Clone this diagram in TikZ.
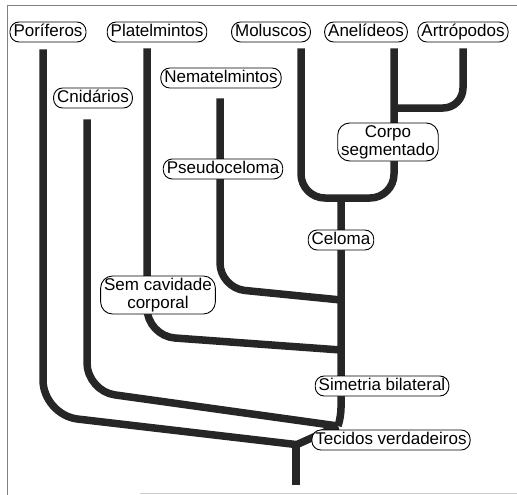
\documentclass[tikz,border=0pt]{standalone}
\usepackage{fontspec}
\setmainfont{Liberation Sans}
\usetikzlibrary{positioning,calc}
\definecolor{ramocor}{HTML}{262626}

\begin{document}
\begin{tikzpicture}[x=1pt,y=-1pt,
    ramo/.style={line width=7.5pt, draw=ramocor},
    grupo/.style={draw, line width=0.9pt, fill=white, rounded corners=9pt,
        inner xsep=3.5pt, inner ysep=2pt, text height=12.5pt, text depth=3.5pt,
        font=\fontsize{17}{18}\selectfont, align=center},
    grupoduplo/.style={grupo, rounded corners=12pt, text height=30.5pt},
    moldura/.style={draw=gray, line width=0.8pt}]
\useasboundingbox (0,0) rectangle (517,495);

% 边框
\draw[moldura] (7,495) -- (7,5) -- (517,5);
\draw[moldura, draw=gray!40] (140,493) -- (517,493);

% 顶部的类群
\node[grupo] (por)  at (48,32)  {Poríferos};
\node[grupo] (plat) at (157,32) {Platelmintos};
\node[grupo] (mol)  at (271,32) {Moluscos};
\node[grupo] (ane)  at (366,32) {Anelídeos};
\node[grupo] (art)  at (463,32) {Artrópodos};
\node[grupo] (cni)  at (93,98)  {Cnidários};
\node[grupo] (nem)  at (221,78) {Nematelmintos};

% 分支的起点和交点
\coordinate (porTop)  at ([xshift=-5pt,yshift=-7pt]por.south);
\coordinate (platTop) at ([xshift=-10pt,yshift=-6pt]plat.south);
\coordinate (molTop)  at ([xshift=30pt,yshift=-6pt]mol.south);
\coordinate (aneTop)  at ([xshift=28pt,yshift=-6pt]ane.south);
\coordinate (artTop)  at ([yshift=-6pt]art.south);
\coordinate (cniTop)  at ([xshift=-6pt,yshift=-11pt]cni.south);
\coordinate (nemTop)  at ([xshift=-1pt,yshift=-10pt]nem.south);
\coordinate (raiz) at (296,485);
\coordinate (T) at (296,445);
\coordinate (S) at (338,426);
\coordinate (J1) at (341,350);
\coordinate (J2) at (341,300);
\coordinate (U) at (341,198);
\coordinate (A) at (394,108);

% 画分支
\draw[ramo] (T) -- (raiz);
\draw[ramo] (T) -- (S);
\draw[ramo, rounded corners=35pt] (porTop) -- (43,415) -- ([xshift=4pt]T);
\draw[ramo, rounded corners=28pt] (cniTop) -- (87,391) -- (S);
\draw[ramo, rounded corners=8pt] (S) -- (341,416) -- (U);
\draw[ramo, rounded corners=28pt] (platTop) -- (147,336) -- (J1);
\draw[ramo, rounded corners=25pt] (nemTop) -- (220,288) -- (J2);
\draw[ramo, rounded corners=24pt] (molTop) -- (301,198) -- (394,198) -- (aneTop);
\draw[ramo, rounded corners=20pt] (artTop) -- (463,108) -- (A);

% 分支上的特征
\node[grupo] (pseudo)   at (223,169) {Pseudoceloma};
\node[grupoduplo] (corpo)  at (388,142) {Corpo\\segmentado};
\node[grupo] (celoma)   at (341,240) {Celoma};
\node[grupoduplo] (semcav) at (158,295) {Sem cavidade\\corporal};
\node[grupo] (simetria) at (382,386) {Simetria bilateral};
\node[grupo] (tecidos)  at (391,440) {Tecidos verdadeiros};
\end{tikzpicture}
\end{document}
